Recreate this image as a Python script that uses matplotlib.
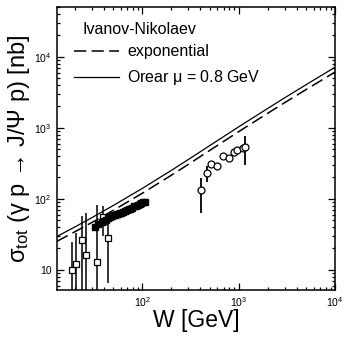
import math

import matplotlib
matplotlib.use("Agg")
import matplotlib.pyplot as plt
from matplotlib.ticker import FuncFormatter, LogLocator, NullFormatter

plt.rcParams["font.family"] = ["Liberation Sans", "DejaVu Sans"]
plt.rcParams["mathtext.fontset"] = "custom"
plt.rcParams["mathtext.rm"] = "Liberation Sans"
plt.rcParams["mathtext.it"] = "Liberation Sans:italic"
plt.rcParams["mathtext.default"] = "regular"

# --- model curves ---
curve_w = [13, 20, 30, 50, 100, 200, 300, 500, 1000, 2000, 3000, 5000, 10000]
orear_sigma = [29.5, 40.2, 54.3, 80.5, 140, 251, 357, 560, 1030, 1869, 2638, 4033, 7117]
expo_sigma = [25.2, 34.4, 46.4, 68.8, 119.7, 214.6, 305, 479, 881, 1598, 2255, 3448, 6085]

# --- open squares (low-energy data) ---
osq_w = [18.7, 20.4, 23.5, 26.3, 34, 39, 43.6]
osq_sigma = [10, 12.2, 26.5, 16.3, 13, 55, 28.5]
osq_err = [15, 21, 30, 47, 69, 25, 22]

# --- filled squares ---
fsq_w = [32, 35, 38, 40, 42, 44, 46, 48, 50, 52, 54, 56, 58, 60, 63, 66, 69, 72,
         75, 78, 82, 86, 90, 94, 98, 102, 106]
fsq_sigma = [40, 44, 47, 49, 51, 54, 56, 58, 59, 60, 61, 62, 63, 64, 66, 67, 69, 71,
             73, 75, 78, 80, 83, 85, 87, 89, 90]

# --- open circles (high-energy data) ---
circ_w = [405, 468, 516, 603, 694, 785, 898, 970, 1100, 1170]
circ_sigma = [131, 230, 308, 285, 404, 374, 463, 480, 518, 535]
circ_err = [67, 55, 30, 20, 30, 25, 30, 30, 60, 240]


def pow10_fmt(v, pos):
    if abs(v - 10) < 1e-6:
        return "10"
    return r"$10^{%d}$" % round(math.log10(v))


fig = plt.figure(figsize=(3.45, 3.38), dpi=100)
ax = fig.add_axes([0.165, 0.142, 0.806, 0.837])

ax.plot(curve_w, expo_sigma, color="black", lw=1.1, dashes=(8, 3.5), label="exponential")
ax.plot(curve_w, orear_sigma, color="black", lw=0.9, label=r"Orear $\mu$ = 0.8 GeV")

ax.errorbar(osq_w, osq_sigma, yerr=osq_err, fmt="s", ms=5, mfc="white", mec="black",
            mew=0.9, ecolor="black", elinewidth=1.1, capsize=0, zorder=3)
ax.plot(fsq_w, fsq_sigma, "s", ms=3.8, color="black", zorder=4)
ax.errorbar(circ_w, circ_sigma, yerr=circ_err, fmt="o", ms=5, mfc="white", mec="black",
            mew=0.9, ecolor="black", elinewidth=1.3, capsize=0, zorder=3)

ax.set_xscale("log")
ax.set_yscale("log")
ax.set_xlim(13, 1e4)
ax.set_ylim(5.2, 5e4)

ax.xaxis.set_major_locator(LogLocator(base=10, numticks=10))
ax.yaxis.set_major_locator(LogLocator(base=10, numticks=10))
ax.xaxis.set_minor_locator(LogLocator(base=10, subs=range(2, 10), numticks=20))
ax.yaxis.set_minor_locator(LogLocator(base=10, subs=range(2, 10), numticks=20))
ax.xaxis.set_minor_formatter(NullFormatter())
ax.yaxis.set_minor_formatter(NullFormatter())
ax.yaxis.set_major_formatter(FuncFormatter(pow10_fmt))
ax.xaxis.set_major_formatter(FuncFormatter(pow10_fmt))

ax.tick_params(which="both", direction="in", top=True, right=True, width=0.9)
ax.tick_params(which="major", length=5, labelsize=7.5, pad=4)
ax.tick_params(which="minor", length=2.5)
for s in ax.spines.values():
    s.set_linewidth(1.1)

ax.set_xlabel("W [GeV]", fontsize=16.5, labelpad=0)
ax.set_ylabel(r"σ$_{tot}$ (γ p → J/Ψ p) [nb]", fontsize=17, labelpad=1)

# legend header placed separately (indented relative to the line samples)
fig.text(83 / 345, 1 - 30 / 338, "Ivanov-Nikolaev", fontsize=11.5, ha="left", va="center")
ax.legend(loc="upper left", bbox_to_anchor=(68 / 345, 1 - 38 / 338),
          bbox_transform=fig.transFigure, frameon=False, fontsize=11.5,
          handlelength=2.8, handletextpad=0.5, labelspacing=0.55, borderaxespad=0.0)

fig.savefig("out.png", dpi=100)
